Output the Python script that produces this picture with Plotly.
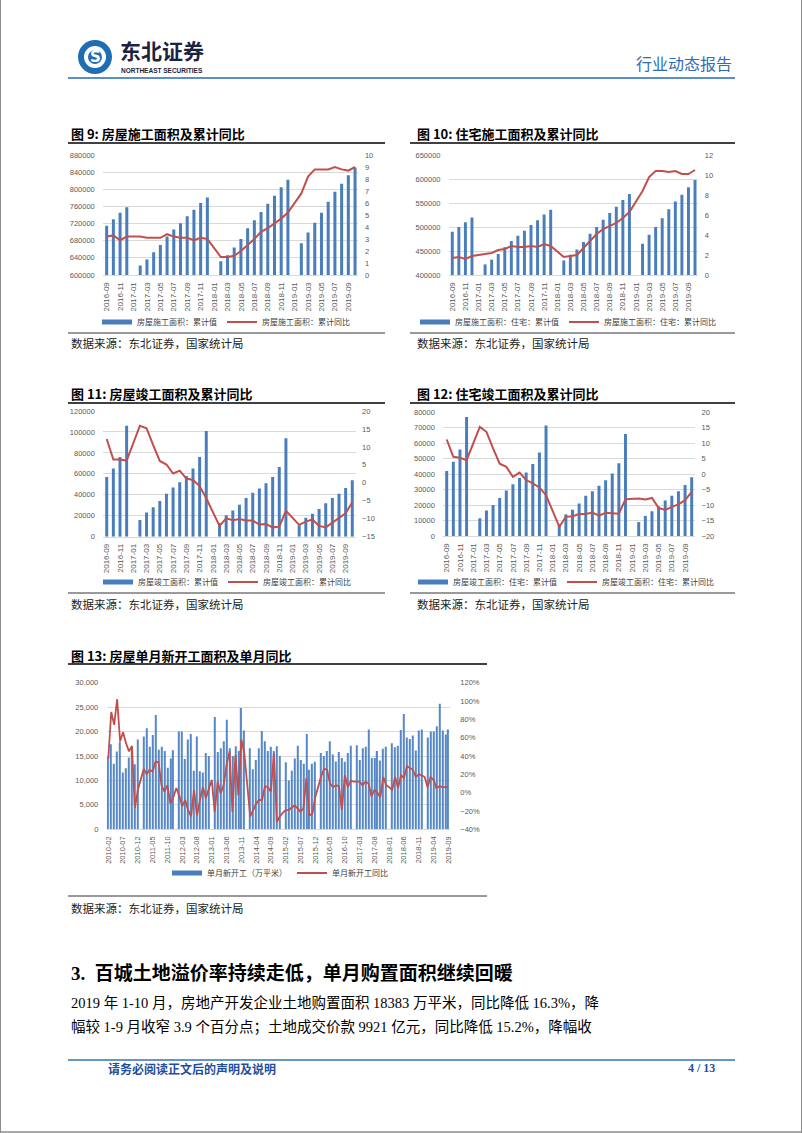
import plotly.graph_objects as go

W, H = 802, 1133


def X(px):
    return px / W


def Y(py):
    return 1 - py / H


def month_range(start, end):
    y, m = map(int, start.split("-"))
    ey, em = map(int, end.split("-"))
    out = []
    while (y, m) <= (ey, em):
        out.append(f"{y}-{m:02d}")
        m += 1
        if m > 12:
            y, m = y + 1, 1
    return out


# ---------------- categories ----------------
months_a = month_range("2016-09", "2019-10")   # charts 9-12
months_b = month_range("2010-02", "2019-09")   # chart 13

# ---------------- 图 9: 房屋施工面积 ----------------
c9_bar = [715000, 730000, 745000, 758000,
          None, 622000, 636000, 653000, 670000, 690000, 706000, 721000, 737000, 752000, 768000, 781000,
          None, 632000, 646000, 664000, 684000, 709000, 728000, 747000, 766000, 785000, 805000, 822000,
          None, 674000, 699000, 722000, 745000, 771000, 794000, 813000, 833000, 851000]
c9_line = [3.2, 3.3, 2.9, 3.2,
           None, 3.2, 3.1, 3.1, 3.1, 3.4, 3.2, 3.1, 3.1, 2.9, 3.1, 3.0,
           None, 1.5, 1.5, 1.6, 2.0, 2.5, 3.0, 3.6, 3.9, 4.3, 4.7, 5.2,
           None, 6.8, 8.2, 8.8, 8.8, 8.8, 9.0, 8.8, 8.7, 9.0]

# ---------------- 图 10: 住宅施工面积 ----------------
c10_bar = [490000, 500000, 510000, 520000,
           None, 422000, 432000, 444000, 458000, 471000, 482000, 492000, 504000, 514000, 526000, 536000,
           None, 430000, 442000, 453000, 469000, 486000, 500000, 515000, 529000, 542000, 556000, 569000,
           None, 465000, 484000, 500000, 518000, 537000, 553000, 567000, 583000, 598000]
c10_line = [1.7, 1.8, 1.6, 1.9,
            None, 2.1, 2.2, 2.5, 2.6, 2.9, 2.8, 2.8, 2.9, 2.8, 3.1, 2.9,
            None, 1.8, 1.9, 2.0, 2.7, 3.4, 4.1, 4.6, 4.9, 5.2, 5.7, 6.3,
            None, 8.4, 9.8, 10.4, 10.4, 10.3, 10.4, 10.1, 10.1, 10.5]

# ---------------- 图 11: 房屋竣工面积 ----------------
c11_bar = [57000, 65000, 76000, 106000,
           None, 16000, 23000, 28000, 34000, 41000, 47000, 52000, 58000, 65000, 76000, 101000,
           None, 13000, 20500, 25000, 30500, 37000, 42000, 46000, 51000, 57000, 66500, 94000,
           None, 11000, 18000, 22000, 26500, 32000, 37000, 41000, 46500, 54000]
c11_line = [12.2, 6.5, 6.5, 6.2,
            None, 15.9, 15.2, 10.5, 6.1, 5.1, 2.6, 3.4, 1.2, 0.8, -0.9, -4.3,
            None, -12.0, -9.9, -10.4, -10.1, -10.5, -10.5, -11.6, -11.5, -12.4, -12.2, -7.8,
            None, -11.7, -10.8, -10.2, -12.0, -12.4, -11.1, -9.9, -8.5, -5.4]

# ---------------- 图 12: 住宅竣工面积 ----------------
c12_bar = [42000, 48000, 56000, 77000,
           None, 11500, 16500, 20000, 24500, 29500, 33500, 37500, 41000, 46500, 54000, 71500,
           None, 7500, 14000, 17000, 21000, 26000, 29000, 32500, 36000, 40500, 47000, 66000,
           None, 9000, 13000, 16000, 19000, 23000, 26000, 29000, 33000, 38000]
c12_line = [11.2, 5.6, 5.3, 4.5,
            None, 15.3, 13.7, 8.3, 3.4, 2.4, -0.9, 0.5, -1.9, -3.0, -4.3, -6.8,
            None, -17.0, -13.8, -13.6, -12.9, -12.9, -12.4, -13.4, -12.5, -12.7, -12.8, -8.1,
            None, -7.9, -8.2, -7.7, -10.9, -11.6, -10.6, -9.8, -8.4, -5.7]

# ---------------- 图 13: 单月新开工 (万平米) & 同比 (%) ----------------
c13_bar = [14900, 17400, 13400, 15900, 17900, 11600, 12500, 14700, 16900, 13300, 18400,
           None, 19000, 20700, 16900, 19300, 23400, 16300, 16900, 16000, 12600, 14500, 16200,
           None, 20000, 20000, 14400, 18400, 19500, 12000, 19000, 11900, 11600, 15600, 15000,
           None, 23000, 15800, 16600, 18000, 22400, 16600, 15000, 17000, 16000, 24800, 20200,
           None, 16600, 12300, 14200, 16600, 20100, 18000, 16000, 16900, 16000, 17000, 15000,
           None, 13700, 10000, 12000, 14500, 17100, 14200, 13400, 19500, 12200, 13400, 13800,
           None, 15600, 15000, 16000, 18000, 15300, 13900, 15800, 14600, 13800, 15600, 17100,
           None, 17200, 14200, 16600, 16900, 20400, 14600, 14600, 16000, 14100, 16500, 16900,
           None, 17600, 16800, 17100, 20300, 23600, 18800, 18500, 19200, 16100, 20200, 20400,
           None, 18800, 20000, 20000, 21100, 25700, 20200, 19400, 20400]
c13_line_pct = [37, 88, 74, 102, 56, 66, 54, 45, 51, -17, 3,
                14, 26, 20, 25, 23, 34, 33, 8, 1, 8, -12, -5,
                5, -3, -15, -8, -19, -26, 3, -25, -8, 6, -6, 3,
                14, -21, 12, -1, 8, 30, 45, -21, 41, -3, 58, 43,
                10, -26, -19, -12, -8, -8, 7, 6, 1, 43, -32, -26,
                -22, -19, -19, -16, -14, -17, -21, -17, 16, -25, -23, -5,
                8, 18, 26, 25, 10, 6, 8, 7, -19, 19, 6, 13,
                12, 12, 12, 8, 12, 10, -4, 3, 0, -5, 17, 8,
                6, 3, 17, 5, 19, 16, 29, 27, 25, 17, 20, 19,
                17, 6, 17, 14, 5, 7, 6, 6, 6]
c13_line = [v / 100 for v in c13_line_pct]

# ---------------- texts ----------------
titles = ["图 9: 房屋施工面积及累计同比", "图 10: 住宅施工面积及累计同比",
          "图 11: 房屋竣工面积及累计同比", "图 12: 住宅竣工面积及累计同比",
          "图 13: 房屋单月新开工面积及单月同比"]
bar_names = ["房屋施工面积：累计值", "房屋施工面积：住宅：累计值",
             "房屋竣工面积：累计值", "房屋竣工面积：住宅：累计值", "单月新开工（万平米）"]
line_names = ["房屋施工面积：累计同比", "房屋施工面积：住宅：累计同比",
              "房屋竣工面积：累计同比", "房屋竣工面积：住宅：累计同比", "单月新开工同比"]
source_text = "数据来源：东北证券，国家统计局"
heading = "3.  百城土地溢价率持续走低，单月购置面积继续回暖"
para1 = "2019 年 1-10 月，房地产开发企业土地购置面积 18383 万平米，同比降低 16.3%，降"
para2 = "幅较 1-9 月收窄 3.9 个百分点；土地成交价款 9921 亿元，同比降低 15.2%，降幅收"

# ---------------- styles ----------------
BLUE = "#4a7ebb"
BLUE13 = "#5688c8"
RED = "#c0504d"
GRID = "#d9d9d9"
TICKC = "#595959"
CJK = "Noto Sans CJK SC"
SERIF = "Liberation Serif, Noto Sans CJK SC"
TICKF = "Liberation Sans, Arial, sans-serif"
NAVY = "#1f4e9c"

charts = [
    dict(cats=months_a, bar=c9_bar, line=c9_line, dx=(103.3, 358.4), dy=(155, 275),
         yl=(600000, 880000, 40000), yr=(0, 10, 1), lfmt="d", rfmt="d", step=2,
         bw=0.45, lw=2, leg=(226, 322), lsize=7.5, xsize=8, bc=BLUE),
    dict(cats=months_a, bar=c10_bar, line=c10_line, dx=(449.0, 698.3), dy=(155, 275),
         yl=(400000, 650000, 50000), yr=(0, 12, 2), lfmt="d", rfmt="d", step=2,
         bw=0.45, lw=2, leg=(568, 322), lsize=7.5, xsize=8, bc=BLUE),
    dict(cats=months_a, bar=c11_bar, line=c11_line, dx=(103.4, 355.6), dy=(411, 536.7),
         yl=(0, 120000, 20000), yr=(-15, 20, 5), lfmt="d", rfmt="d", step=2,
         bw=0.45, lw=2, leg=(227, 582), lsize=7.5, xsize=8, bc=BLUE),
    dict(cats=months_a, bar=c12_bar, line=c12_line, dx=(443.4, 695.0), dy=(412.3, 536),
         yl=(0, 80000, 10000), yr=(-20, 20, 5), lfmt="d", rfmt="d", step=2,
         bw=0.45, lw=2, leg=(566, 582), lsize=7.5, xsize=8, bc=BLUE),
    dict(cats=months_b, bar=c13_bar, line=c13_line, dx=(106.8, 449.8), dy=(682.7, 829.3),
         yl=(0, 30000, 5000), yr=(-0.4, 1.2, 0.2), lfmt=",d", rfmt=".0%", step=5,
         bw=0.38, lw=1.8, leg=(280, 873), lsize=7.5, xsize=7.5, bc=BLUE13),
]

fig = go.Figure()
layout = dict(
    width=W, height=H, margin=dict(l=0, r=0, t=0, b=0),
    paper_bgcolor="white", plot_bgcolor="white", showlegend=True,
    font=dict(family=CJK, color="#000000"),
)

for k, c in enumerate(charts):
    n = k + 1
    xname = "xaxis" if n == 1 else f"xaxis{n}"
    xref = "x" if n == 1 else f"x{n}"
    ln, rn = 2 * k + 1, 2 * k + 2
    lname = "yaxis" if ln == 1 else f"yaxis{ln}"
    lref = "y" if ln == 1 else f"y{ln}"
    rname, rref = f"yaxis{rn}", f"y{rn}"
    legname = "legend" if n == 1 else f"legend{n}"
    cats = c["cats"]

    fig.add_trace(go.Bar(x=cats, y=c["bar"], width=c["bw"], marker=dict(color=c["bc"], line=dict(width=0)),
                         name=bar_names[k], showlegend=False, xaxis=xref, yaxis=lref))
    # legend key for the bar series (thick short bar like the original)
    fig.add_trace(go.Scatter(x=[None], y=[None], mode="lines", line=dict(color=BLUE, width=5),
                             name=bar_names[k], legend=legname, xaxis=xref, yaxis=lref))
    fig.add_trace(go.Scatter(x=cats, y=c["line"], mode="lines", connectgaps=True,
                             line=dict(color=RED, width=c["lw"]), name=line_names[k],
                             legend=legname, xaxis=xref, yaxis=rref))

    layout[xname] = dict(
        domain=[X(c["dx"][0]), X(c["dx"][1])], anchor=lref, type="category",
        range=[-0.5, len(cats) - 0.5], tickmode="array",
        tickvals=cats[::c["step"]], ticktext=cats[::c["step"]], tickangle=-90,
        tickfont=dict(family=TICKF, size=c["xsize"], color=TICKC),
        showgrid=False, showline=True, linecolor=GRID, linewidth=1,
        ticks="outside", ticklen=3, tickcolor="rgba(0,0,0,0)", automargin=False,
        zeroline=False,
    )
    y0, y1, yd = c["yl"]
    layout[lname] = dict(
        domain=[Y(c["dy"][1]), Y(c["dy"][0])], anchor=xref, range=[y0, y1],
        tick0=y0, dtick=yd, tickformat=c["lfmt"],
        tickfont=dict(family=TICKF, size=c["lsize"], color=TICKC),
        showgrid=True, gridcolor=GRID, gridwidth=0.8, zeroline=False, showline=False,
        ticks="outside", ticklen=6, tickcolor="rgba(0,0,0,0)", automargin=False,
    )
    r0, r1, rd = c["yr"]
    layout[rname] = dict(
        overlaying=lref, side="right", anchor=xref, range=[r0, r1],
        tick0=r0, dtick=rd, tickformat=c["rfmt"],
        tickfont=dict(family=TICKF, size=c["lsize"], color=TICKC),
        showgrid=False, zeroline=False, showline=False,
        ticks="outside", ticklen=4 if k < 4 else 8, tickcolor="rgba(0,0,0,0)", automargin=False,
    )
    layout[legname] = dict(
        orientation="h", x=X(c["leg"][0]), y=Y(c["leg"][1]), xanchor="center", yanchor="middle",
        font=dict(family=CJK, size=8, color="#404040"), bgcolor="rgba(0,0,0,0)",
        itemwidth=30, tracegroupgap=0, traceorder="normal",
    )

fig.update_layout(**layout)

# ---------------- annotations & decorations ----------------
ann = []
shapes = []


def text(px, py, s, size, color="#000000", family=CJK, xanchor="left", bold=False):
    ann.append(dict(x=X(px), y=Y(py), xref="paper", yref="paper", text=(f"<b>{s}</b>" if bold else s),
                    showarrow=False, xanchor=xanchor, yanchor="middle", borderpad=0,
                    font=dict(size=size, color=color, family=family)))


def hline(x0, x1, py, color, width):
    shapes.append(dict(type="line", xref="paper", yref="paper", x0=X(x0), x1=X(x1), y0=Y(py), y1=Y(py),
                       line=dict(color=color, width=width)))


# page frame
shapes.append(dict(type="line", xref="paper", yref="paper", x0=X(0.5), x1=X(0.5), y0=0, y1=1,
                   line=dict(color="#8c8c8c", width=1)))
shapes.append(dict(type="line", xref="paper", yref="paper", x0=X(801.5), x1=X(801.5), y0=0, y1=1,
                   line=dict(color="#8c8c8c", width=1)))
hline(0, 802, 1132, "#8c8c8c", 1.5)

# header
shapes.append(dict(type="circle", xref="paper", yref="paper", x0=X(78), x1=X(112), y0=Y(74), y1=Y(40),
                   fillcolor="#1f6db5", line=dict(width=0)))
shapes.append(dict(type="circle", xref="paper", yref="paper", x0=X(84), x1=X(106), y0=Y(68), y1=Y(46),
                   fillcolor="white", line=dict(width=0)))
shapes.append(dict(type="circle", xref="paper", yref="paper", x0=X(88), x1=X(102), y0=Y(64), y1=Y(50),
                   fillcolor="#1f6db5", line=dict(width=0)))
text(95, 57, "S", 15, color="white", family="DejaVu Sans", xanchor="center", bold=True)
text(119, 50, "东北证券", 21, color="#1a2440", bold=True)
text(120, 70, "NORTHEAST SECURITIES", 6.5, color="#1a2440", family="Liberation Sans", bold=True)
text(733, 63, "行业动态报告", 16, color="#2f6db5", xanchor="right")
hline(68, 735, 78, "#5b8fc9", 2)

# chart titles, rules and sources
title_pos = [(70, 133), (416, 133), (70, 393), (416, 393), (70, 655)]
for (tx, ty), t in zip(title_pos, titles):
    text(tx, ty, t, 13, bold=True)
hline(68, 385, 143, "#000000", 1.5)
hline(410, 735, 143, "#000000", 1.5)
hline(68, 385, 403, "#000000", 1.5)
hline(410, 735, 403, "#000000", 1.5)
hline(68, 487, 664, "#000000", 1.5)

hline(68, 385, 333, "#000000", 0.8)
hline(410, 735, 333, "#000000", 0.8)
hline(68, 385, 593, "#000000", 0.8)
hline(410, 735, 593, "#000000", 0.8)
hline(68, 487, 896, "#000000", 0.8)
for sx, sy in [(70, 343), (416, 343), (70, 604), (416, 604), (70, 908)]:
    text(sx, sy, source_text, 11.5, color="#222222")

# section text
text(70, 973, heading, 19, family=SERIF, bold=True)
text(70, 1002, para1, 14.5, family=SERIF)
text(70, 1027, para2, 14.5, family=SERIF)

# footer
hline(68, 735, 1060, "#2e75b6", 1.5)
text(107, 1068, "请务必阅读正文后的声明及说明", 12, color=NAVY, bold=True)
text(716, 1068, "4 / 13", 12, color=NAVY, family="Liberation Serif", xanchor="right", bold=True)

fig.update_layout(annotations=ann, shapes=shapes)

fig.write_html("out.html", config={"displayModeBar": False},
               post_script="document.body.style.margin='0';")
